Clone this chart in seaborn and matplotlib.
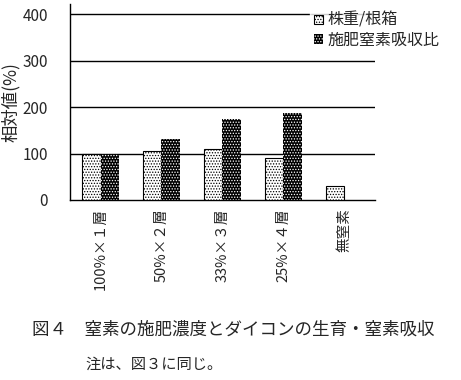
import numpy as np
import pandas as pd
import matplotlib
matplotlib.use("Agg")
import matplotlib.pyplot as plt
import seaborn as sns
from matplotlib.patches import Patch

categories = ["100%×１層", "50%×２層", "33%×３層", "25%×４層", "無窒素"]
series_names = ["株重/根箱", "施肥窒素吸収比"]
plant_weight = [100, 106, 110, 91, 30]
n_uptake = [100, 131, 174, 187, np.nan]
y_ticks = [0, 100, 200, 300, 400]


def build_frame():
    rows = []
    for cat, a, b in zip(categories, plant_weight, n_uptake):
        rows.append({"cat": cat, "series": series_names[0], "value": a})
        rows.append({"cat": cat, "series": series_names[1], "value": b})
    return pd.DataFrame(rows)


def main():
    df = build_frame()
    sns.set_style("white")
    plt.rcParams["font.family"] = ["Noto Sans CJK JP", "DejaVu Sans"]
    plt.rcParams["hatch.linewidth"] = 0.6

    fig = plt.figure(figsize=(4.61, 3.80), dpi=100)
    ax = fig.add_axes([0.152, 0.474, 0.661, 0.515])

    sns.barplot(data=df, x="cat", y="value", hue="series", order=categories,
                hue_order=series_names, palette=["white", "black"],
                width=0.6, gap=0, edgecolor="black", linewidth=0.8,
                legend=False, ax=ax, zorder=3)

    for bar in ax.patches:
        if bar.get_facecolor()[0] > 0.5:
            bar.set_hatch("......")
        else:
            bar.set_hatch("......")
            bar.set_edgecolor("white")
            bar.set_linewidth(0)

    ax.set_xlim(-0.5, len(categories) - 0.5)
    ax.set_ylim(0, 422)
    ax.set_yticks(y_ticks)
    ax.set_yticklabels([str(v) for v in y_ticks], fontsize=11)
    for v in y_ticks[1:]:
        ax.axhline(v, color="black", linewidth=1, zorder=1)

    ax.set_xticks(range(len(categories)))
    ax.set_xticklabels(categories, rotation=90, fontsize=10.5)
    ax.set_xticks(np.arange(0.5, len(categories), 1), minor=True)
    ax.tick_params(axis="x", which="major", length=0, pad=6)
    ax.tick_params(axis="x", which="minor", length=3, direction="in",
                   width=0.8, color="black")
    ax.tick_params(axis="y", length=0, pad=16)

    ax.set_xlabel("")
    ax.set_ylabel("相対値(%)", fontsize=12.5, labelpad=2)
    for side in ["top", "right"]:
        ax.spines[side].set_visible(False)
    for side in ["left", "bottom"]:
        ax.spines[side].set_color("black")
        ax.spines[side].set_linewidth(1)

    handles = [Patch(facecolor="white", edgecolor="black", hatch="......", linewidth=0.8),
               Patch(facecolor="black", edgecolor="white", hatch="......", linewidth=0)]
    leg = fig.legend(handles, series_names, loc="upper left",
                     bbox_to_anchor=(0.655, 1.0), frameon=True, fontsize=11.5,
                     handlelength=0.55, handleheight=0.55, handletextpad=0.3,
                     labelspacing=0.15, borderpad=0.25)
    leg.get_frame().set_edgecolor("white")
    leg.get_frame().set_facecolor("white")

    fig.text(0.07, 0.12, "図４　窒素の施肥濃度とダイコンの生育・窒素吸収", fontsize=12.6)
    fig.text(0.185, 0.03, "注は、図３に同じ。", fontsize=11)

    fig.savefig("out.png", dpi=100)


if __name__ == "__main__":
    main()
